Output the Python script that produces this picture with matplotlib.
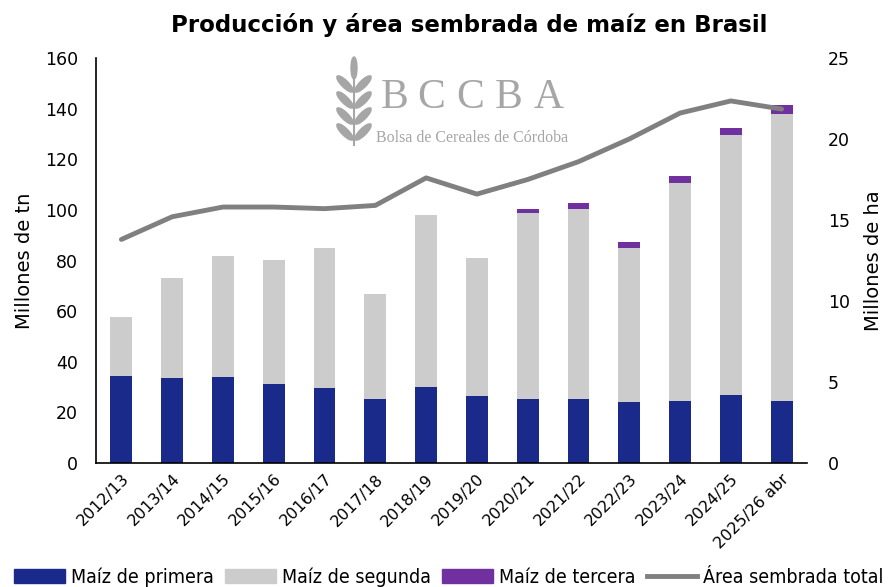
import matplotlib
matplotlib.use("Agg")
import matplotlib.pyplot as plt
import numpy as np
from matplotlib.patches import Ellipse, Rectangle
from matplotlib.lines import Line2D

campaigns = ["2012/13", "2013/14", "2014/15", "2015/16", "2016/17", "2017/18", "2018/19",
             "2019/20", "2020/21", "2021/22", "2022/23", "2023/24", "2024/25", "2025/26 abr"]
primera = [34.4, 33.5, 34.1, 31.2, 29.6, 25.3, 30.0, 26.3, 25.3, 25.3, 24.2, 24.6, 26.7, 24.5]
segunda = [23.2, 39.6, 47.7, 49.0, 55.2, 41.3, 68.0, 54.6, 73.3, 75.1, 60.9, 85.9, 102.8, 113.4]
tercera = [0, 0, 0, 0, 0, 0, 0, 0, 1.8, 2.5, 2.2, 2.9, 2.9, 3.4]
area = [13.8, 15.2, 15.8, 15.8, 15.7, 15.9, 17.6, 16.6, 17.5, 18.6, 20.0, 21.6, 22.35, 21.85]

c_prim = "#1a2a8a"
c_seg = "#cccccc"
c_ter = "#7030a0"
c_line = "#808080"

plt.rcParams["font.family"] = ["DejaVu Sans"]

fig = plt.figure(figsize=(8.93, 5.87), dpi=100)
ax = fig.add_axes([96/893, 1-463/587, (807-96)/893, (463-58)/587])
x = np.arange(len(campaigns))
w = 0.43
p = np.array(primera); s = np.array(segunda); t = np.array(tercera)
ax.bar(x, p, w, color=c_prim, zorder=2)
ax.bar(x, s, w, bottom=p, color=c_seg, zorder=2)
ax.bar(x, t, w, bottom=p+s, color=c_ter, zorder=2)
ax.set_xlim(-0.5, len(campaigns)-0.5)
ax.set_ylim(0, 160)
ax.set_yticks(range(0, 161, 20))
ax.set_xticks(x)
ax.set_xticklabels(campaigns, rotation=45, ha="right", rotation_mode="anchor", fontsize=11.5)
ax.tick_params(axis="y", labelsize=12.5, length=0, pad=13)
ax.tick_params(axis="x", length=0, pad=6)
for sp in ["top", "right"]:
    ax.spines[sp].set_visible(False)
ax.spines["left"].set_linewidth(1.2)
ax.spines["bottom"].set_linewidth(1.2)
ax.set_ylabel("Millones de tn", fontsize=14, labelpad=8)

ax2 = ax.twinx()
ax2.plot(x, area, color=c_line, lw=3.5, solid_capstyle="round", zorder=3)
ax2.set_ylim(0, 25)
ax2.set_yticks(range(0, 26, 5))
ax2.tick_params(axis="y", labelsize=12.5, length=0, pad=15)
for sp in ax2.spines.values():
    sp.set_visible(False)
ax2.set_ylabel("Millones de ha", fontsize=14, labelpad=10)

fig.text(469/893, 1-25/587, "Producción y área sembrada de maíz en Brasil", ha="center", va="center",
         fontsize=16.5, fontweight="bold")

# logo
lc = "#a6a6a6"
for ch, cx in zip("BCCBA", [395, 431, 470, 509, 549]):
    fig.text(cx/893, 1-98/587, ch, fontsize=30, family="Liberation Serif", color=lc,
             va="center", ha="center")
fig.text(376/893, 1-138/587, "Bolsa de Cereales de Córdoba", fontsize=11.5, family="Liberation Serif",
         color=lc, va="center", ha="left")
lax = fig.add_axes([330/893, 1-150/587, 45/893, 95/587])
lax.set_xlim(0, 45); lax.set_ylim(0, 95); lax.axis("off")
lax.plot([24, 24], [5, 80], color=lc, lw=1.5)
lax.add_patch(Ellipse((24, 82), 6, 22, color=lc))
for yy in [62, 46, 30, 14]:
    lax.add_patch(Ellipse((15, yy+4), 7, 22, angle=45, color=lc))
    lax.add_patch(Ellipse((33, yy+4), 7, 22, angle=-45, color=lc))

handles = [Rectangle((0, 0), 1, 1, color=c_prim), Rectangle((0, 0), 1, 1, color=c_seg),
           Rectangle((0, 0), 1, 1, color=c_ter), Line2D([0], [0], color=c_line, lw=3.5)]
labels = ["Maíz de primera", "Maíz de segunda", "Maíz de tercera", "Área sembrada total"]
fig.legend(handles, labels, loc="center", bbox_to_anchor=(449/893, 1-577/587), ncol=4, frameon=False,
           handlelength=2.6, handletextpad=0.3, columnspacing=0.6,
           prop={"family": "DejaVu Sans", "stretch": "condensed", "size": 14})

fig.savefig("out.png", dpi=100)
